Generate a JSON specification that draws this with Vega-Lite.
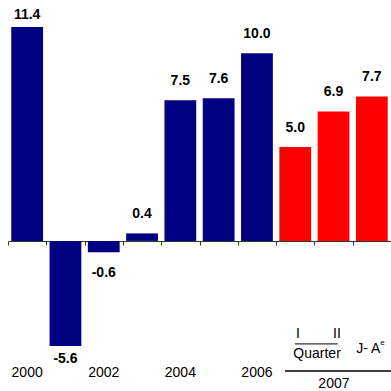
{
  "$schema": "https://vega.github.io/schema/vega-lite/v6.json",
  "width": 383,
  "height": 391,
  "autosize": {"type": "none"},
  "padding": {"left": 8, "top": 0, "right": 0, "bottom": 0},
  "background": "white",
  "config": {"view": {"stroke": null}, "text": {"font": "Liberation Sans", "fontSize": 14, "color": "black"}},
  "data": {
    "values": [
      {"cat": "2000", "v": 11.4, "g": "a", "yr": "2000"},
      {"cat": "2001", "v": -5.6, "g": "a", "yr": ""},
      {"cat": "2002", "v": -0.6, "g": "a", "yr": "2002"},
      {"cat": "2003", "v": 0.4, "g": "a", "yr": ""},
      {"cat": "2004", "v": 7.5, "g": "a", "yr": "2004"},
      {"cat": "2005", "v": 7.6, "g": "a", "yr": ""},
      {"cat": "2006", "v": 10.0, "g": "a", "yr": "2006"},
      {"cat": "Q1", "v": 5.0, "g": "b", "yr": ""},
      {"cat": "Q2", "v": 6.9, "g": "b", "yr": ""},
      {"cat": "JA", "v": 7.7, "g": "b", "yr": ""}
    ]
  },
  "transform": [{"calculate": "replace(format(datum.v, '.1f'), '\u2212', '-')", "as": "lab"}],
  "encoding": {
    "x": {
      "field": "cat", "type": "nominal", "sort": null,
      "scale": {"paddingInner": 0, "paddingOuter": 0},
      "axis": {"orient": "bottom", "offset": -150, "labels": false, "title": null, "tickBand": "extent", "tickSize": 4, "tickColor": "#333333", "domainColor": "#333333", "domainWidth": 1, "grid": false}
    }
  },
  "layer": [
    {
      "mark": {"type": "bar", "width": {"band": 0.83}},
      "encoding": {
        "y": {"field": "v", "type": "quantitative", "scale": {"domain": [-8, 12.84], "nice": false, "zero": true}, "axis": null},
        "color": {"field": "g", "type": "nominal", "scale": {"domain": ["a", "b"], "range": ["#000080", "#ff0000"]}, "legend": null}
      }
    },
    {
      "transform": [{"filter": "datum.v >= 0 && datum.v < 11"}],
      "mark": {"type": "text", "fontWeight": "bold", "baseline": "alphabetic", "dy": -15},
      "encoding": {"y": {"field": "v", "type": "quantitative"}, "text": {"field": "lab"}}
    },
    {
      "transform": [{"filter": "datum.v >= 11"}],
      "mark": {"type": "text", "fontWeight": "bold", "baseline": "alphabetic", "dy": -8},
      "encoding": {"y": {"field": "v", "type": "quantitative"}, "text": {"field": "lab"}}
    },
    {
      "transform": [{"filter": "datum.v < 0 && datum.v > -5"}],
      "mark": {"type": "text", "fontWeight": "bold", "baseline": "alphabetic", "dy": 25},
      "encoding": {"y": {"field": "v", "type": "quantitative"}, "text": {"field": "lab"}}
    },
    {
      "transform": [{"filter": "datum.v <= -5"}],
      "mark": {"type": "text", "fontWeight": "bold", "baseline": "alphabetic", "dy": 17},
      "encoding": {"y": {"field": "v", "type": "quantitative"}, "text": {"field": "lab"}}
    },
    {
      "transform": [{"filter": "datum.yr != ''"}],
      "mark": {"type": "text", "baseline": "alphabetic"},
      "encoding": {"y": {"datum": -7.25, "type": "quantitative"}, "text": {"field": "yr"}}
    },
    {
      "data": {"values": [{"a": 1}]},
      "layer": [
        {
          "mark": {"type": "text", "baseline": "alphabetic", "text": "I"},
          "encoding": {"x": {"datum": "Q1", "bandPosition": 0.57}, "y": {"datum": -5.17, "type": "quantitative"}}
        },
        {
          "mark": {"type": "text", "baseline": "alphabetic", "text": "II"},
          "encoding": {"x": {"datum": "Q2", "bandPosition": 0.59}, "y": {"datum": -5.17, "type": "quantitative"}}
        },
        {
          "mark": {"type": "rule", "color": "black", "strokeWidth": 1},
          "encoding": {"x": {"datum": "Q1", "bandPosition": 0.49}, "x2": {"datum": "Q2", "bandPosition": 0.61}, "y": {"datum": -5.49, "type": "quantitative"}}
        },
        {
          "mark": {"type": "text", "baseline": "alphabetic", "text": "Quarter"},
          "encoding": {"x": {"datum": "Q2", "bandPosition": 0.07}, "y": {"datum": -6.23, "type": "quantitative"}}
        },
        {
          "mark": {"type": "text", "baseline": "alphabetic", "align": "left", "text": "J- A"},
          "encoding": {"x": {"datum": "JA", "bandPosition": 0.09}, "y": {"datum": -5.97, "type": "quantitative"}}
        },
        {
          "mark": {"type": "text", "baseline": "alphabetic", "align": "left", "fontSize": 8, "text": "e"},
          "encoding": {"x": {"datum": "JA", "bandPosition": 0.72}, "y": {"datum": -5.54, "type": "quantitative"}}
        },
        {
          "mark": {"type": "rule", "color": "black", "strokeWidth": 1.5},
          "encoding": {"x": {"datum": "Q1", "bandPosition": 0.23}, "x2": {"datum": "JA", "bandPosition": 1}, "y": {"datum": -6.93, "type": "quantitative"}}
        },
        {
          "mark": {"type": "text", "baseline": "alphabetic", "text": "2007"},
          "encoding": {"x": {"datum": "Q2", "bandPosition": 0.51}, "y": {"datum": -7.83, "type": "quantitative"}}
        }
      ]
    }
  ]
}
